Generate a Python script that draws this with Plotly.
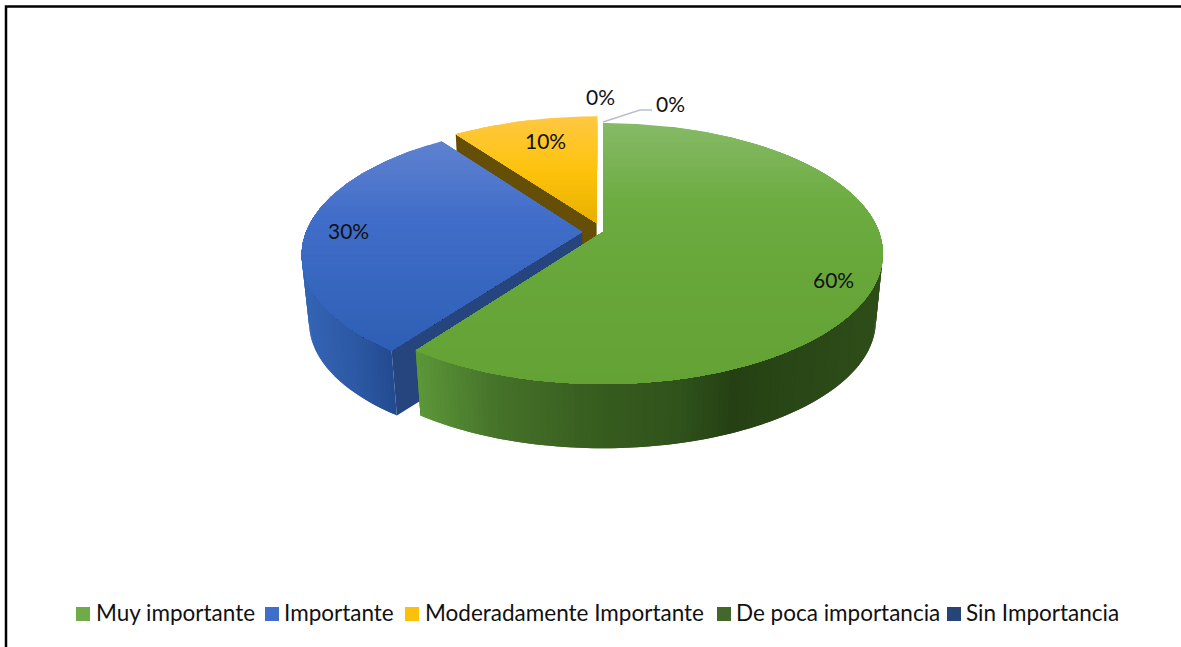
import math
import plotly.graph_objects as go

categories = ["Muy importante", "Importante", "Moderadamente Importante", "De poca importancia", "Sin Importancia"]
values = [60, 30, 10, 0, 0]
swatches = ["#6fac47", "#3f6fc8", "#fdc00a", "#43682b", "#264478"]

# styling of the drawn faces: (pixel y or x, colour)
TOP_STOPS = {
    0: [(123, "#86ba66"), (200, "#6dac42"), (260, "#68a73a"), (384, "#64a236")],
    1: [(141, "#5f82d0"), (220, "#406dc9"), (350, "#2e5fb4")],
    2: [(116, "#ffc842"), (170, "#fdc30c"), (223, "#e8af00")],
}
WALL_STOPS = {
    0: [(417, "#5c9739"), (500, "#457229"), (600, "#375c1f"), (680, "#30531b"), (735, "#254114"), (790, "#294616"), (885, "#2e4e19")],
    1: [(303, "#3464b4"), (350, "#2d5aa6"), (395, "#224a90")],
    2: [(450, "#6b5206"), (600, "#6b5206")],
}
CUT_COLOUR = {0: "#43682b", 1: "#26457f", 2: "#654e05"}
LABEL_POS = [(833, 279.5), (348, 230.5), (545, 140.5), (600, 96.5), (670, 103.5)]
LEADER = ([603, 640, 652], [122, 110, 110])
LEGEND_SWATCH_X = [83, 272, 412, 724, 954]
LEGEND_TEXT_X = [96, 284, 425, 736, 966]
LEGEND_Y = 612.5
LEGEND_SWATCH_Y = 614

# projection of the pie (unit circle, with perspective) to the pixel-scaled axes
CX, CY, A, B, K = 603, 232, 276, 127, 0.165
EXPLODE = 0.076
SHRINK, VY = 0.975, 2950


def project(u, v, lower=False):
    d = 1 + K * v
    x, y = CX + A * u / d, CY - B * v / d
    if lower:
        x = CX + (x - CX) * SHRINK
        y = VY - (VY - y) * SHRINK
    return x, y


def hex_rgb(h):
    return [int(h[i:i + 2], 16) for i in (1, 3, 5)]


def ramp(stops, t):
    if t <= stops[0][0]:
        return stops[0][1]
    for (a, ca), (b, cb) in zip(stops, stops[1:]):
        if t <= b:
            f = (t - a) / (b - a)
            ra, rb = hex_rgb(ca), hex_rgb(cb)
            return "rgb(%d,%d,%d)" % tuple(round(p + (q - p) * f) for p, q in zip(ra, rb))
    return stops[-1][1]


def clip_below(poly, ymin):
    out = []
    for (x0, y0), (x1, y1) in zip(poly, poly[1:] + poly[:1]):
        if y0 >= ymin:
            out.append((x0, y0))
        if (y0 >= ymin) != (y1 >= ymin):
            f = (ymin - y0) / (y1 - y0)
            out.append((x0 + (x1 - x0) * f, ymin))
    return out


fig = go.Figure()


def face(poly, colour):
    fig.add_trace(go.Scatter(
        x=[p[0] for p in poly] + [poly[0][0]], y=[p[1] for p in poly] + [poly[0][1]],
        mode="lines", fill="toself", fillcolor=colour, line=dict(width=0),
        hoverinfo="skip", showlegend=False))


total = sum(values)
spans = []
run = 0
for val in values:
    spans.append((run / total * 360, (run + val) / total * 360))
    run += val

for i in (2, 1, 0):
    a0, a1 = spans[i]
    mid = math.radians((a0 + a1) / 2)
    u0, v0 = EXPLODE * math.sin(mid), EXPLODE * math.cos(mid)
    if i == 0:
        u0, v0 = 0.0, 0.0

    def pt(ang, lower=False, r=1.0):
        t = math.radians(ang)
        return project(u0 + r * math.sin(t), v0 + r * math.cos(t), lower)

    # flat cut faces
    for ang in (a0, a1):
        face([pt(ang), pt(ang, r=0), pt(ang, True, r=0), pt(ang, True)], CUT_COLOUR[i])
    # curved wall, painted as overlapping strips
    step = 1.0
    ang = a0
    while ang < a1:
        nxt = min(ang + 2 * step, a1)
        if 70 < ang < 290:
            xm = pt(ang)[0]
            face([pt(ang), pt(nxt), pt(nxt, True), pt(ang, True)], ramp(WALL_STOPS[i], xm))
        ang += step
    # top face with a vertical gradient, each band painted over the previous
    n = max(2, int(a1 - a0))
    top = [pt(0, r=0)] + [pt(a0 + (a1 - a0) * k / n) for k in range(n + 1)]
    ys = [p[1] for p in top]
    y = min(ys) - 1
    while y < max(ys):
        band = clip_below(top, y)
        if len(band) > 2:
            face(band, ramp(TOP_STOPS[i], y + 2))
        y += 5

# leader line of the last label
fig.add_trace(go.Scatter(x=LEADER[0], y=LEADER[1], mode="lines", line=dict(color="#b4c0d2", width=1.5),
                         hoverinfo="skip", showlegend=False))

# legend entries
for name, colour, sx, tx in zip(categories, swatches, LEGEND_SWATCH_X, LEGEND_TEXT_X):
    fig.add_trace(go.Scatter(x=[sx], y=[LEGEND_SWATCH_Y], mode="markers", name=name, showlegend=False,
                             hoverinfo="skip",
                             marker=dict(symbol="square", size=14, color=colour, line=dict(width=0))))
    fig.add_annotation(x=tx, y=LEGEND_Y, text=name, showarrow=False, xanchor="left",
                       xshift=-2, font=dict(family="Lato", size=22.5, color="#111111"))

for val, (lx, ly) in zip(values, LABEL_POS):
    fig.add_annotation(x=lx, y=ly, text=f"{val}%", showarrow=False,
                       font=dict(family="Lato", size=21, color="#111111"))

fig.update_layout(
    width=1181, height=647, autosize=False,
    margin=dict(l=0, r=0, t=0, b=0),
    paper_bgcolor="white", plot_bgcolor="white",
    showlegend=False,
    xaxis=dict(range=[0, 1181], visible=False, fixedrange=True),
    yaxis=dict(range=[647, 0], visible=False, fixedrange=True),
    shapes=[dict(type="rect", xref="x", yref="y", x0=6, y0=6.5, x1=1200, y1=680,
                 line=dict(color="black", width=2.5))],
)
fig.write_html("out.html", config=dict(displayModeBar=False),
               post_script="document.body.style.margin='0';document.documentElement.style.overflow='hidden';")
